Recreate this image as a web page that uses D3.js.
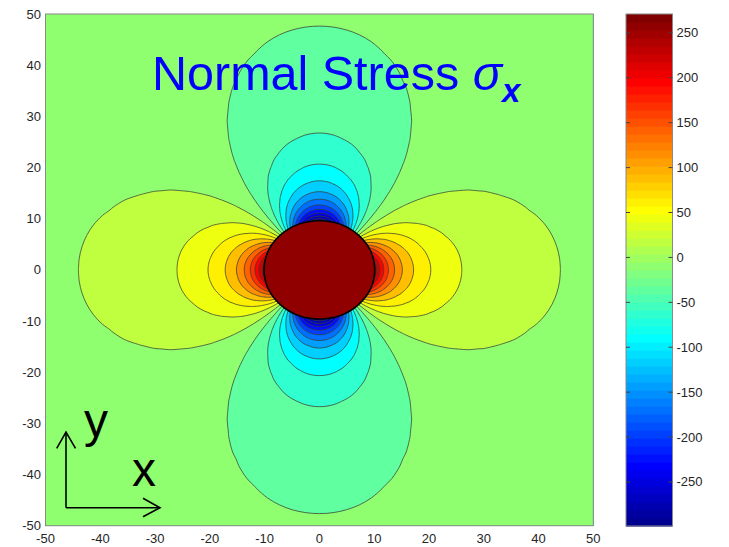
<!DOCTYPE html>
<html><head><meta charset="utf-8">
<script src="https://cdn.jsdelivr.net/npm/d3@7"></script>
<style>
body{margin:0;background:#fff}
svg{display:block}
text{font-family:"Liberation Sans",Arial,Helvetica,sans-serif}
</style>
</head><body><svg id="c" width="729" height="547"></svg>
<script>
// ---------------- data ----------------
// radii (plot units) along the +x axis, and sigma_x read there
const radii = [9, 9.5, 10, 10.5, 11, 11.5, 12, 12.5, 13, 13.5, 14, 15, 16, 17, 18, 19, 20, 22, 24, 26, 28, 30, 33, 36, 40, 44, 48, 53, 58, 64, 71, 76];
const stressOnXAxis = [335, 300, 271, 246, 224, 205, 188, 173, 160, 149, 138, 120, 106, 94, 84, 75, 68, 56, 47, 40, 34.6, 30.1, 24.9, 20.9, 16.9, 14.0, 11.8, 9.6, 8.1, 6.6, 5.4, 4.7];
// relative stress round a ring, first quadrant (degrees from +x axis)
const angles = [0, 3, 6, 9, 12, 15, 18, 21, 24, 27, 30, 33, 36, 39, 42, 45, 48, 51, 54, 57, 60, 63, 66, 69, 72, 75, 78, 81, 84, 87, 90];
const angularFactor = [1, 0.9945, 0.9781, 0.9511, 0.9135, 0.8660, 0.8090, 0.7431, 0.6691, 0.5878, 0.5, 0.4067, 0.3090, 0.2079, 0.1045, 0, -0.1045, -0.2079, -0.3090, -0.4067, -0.5, -0.5878, -0.6691, -0.7431, -0.8090, -0.8660, -0.9135, -0.9511, -0.9781, -0.9945, -1];
// contour levels and colour range
const levels = [-272, -246, -220, -194, -168, -142, -116, -90, -64, -38, -12, 14, 40, 66, 92, 118, 144, 170, 196, 222, 248];
const colorRange = [-299, 271];
const holeRadius = [10.1, 9.6];
const xTicks = [-50, -40, -30, -20, -10, 0, 10, 20, 30, 40, 50];
const yTicks = [-50, -40, -30, -20, -10, 0, 10, 20, 30, 40, 50];
const cbTicks = [-250, -200, -150, -100, -50, 0, 50, 100, 150, 200, 250];

// ---------------- scales ----------------
const svg = d3.select("#c");
const x = d3.scaleLinear().domain([-50, 50]).range([45.5, 593.3]);
const y = d3.scaleLinear().domain([-50, 50]).range([525.7, 14]);
const cb = d3.scaleLinear().domain(colorRange).range([526, 14]);

const jet = d3.scaleLinear()
  .domain([0, 1/8, 3/8, 5/8, 7/8, 1])
  .range(["#000080", "#0000ff", "#00ffff", "#ffff00", "#ff0000", "#800000"])
  .interpolate(d3.interpolateRgb).clamp(true);
function colorOf(v) {
  const f = (v - colorRange[0]) / (colorRange[1] - colorRange[0]);
  const idx = Math.max(0, Math.min(63, Math.floor(f * 64)));
  return jet((idx + 1) / 64);
}

// ---------------- polar grid ----------------
const step = angles[1] - angles[0];
const t0 = 45;
const nT = 360 / step + 1;
const nR = radii.length;
const values = new Array(nT * nR);
for (let ri = 0; ri < nR; ri++) {
  for (let tj = 0; tj < nT; tj++) {
    let phi = (t0 + step * tj) % 180;
    if (phi > 90) phi = 180 - phi;
    values[ri * nT + tj] = stressOnXAxis[ri] * angularFactor[Math.round(phi / step)];
  }
}
function rAt(k) {
  if (k <= 0) return radii[0] + k * (radii[1] - radii[0]);
  if (k >= nR - 1) return radii[nR - 1] + (k - nR + 1) * (radii[nR - 1] - radii[nR - 2]);
  const i = Math.floor(k), t = k - i;
  return radii[i] + t * (radii[i + 1] - radii[i]);
}
function toPx(p) {
  const th = (t0 + step * (p[0] - 0.5)) * Math.PI / 180;
  const r = rAt(p[1] - 0.5);
  return [x(r * Math.cos(th)), y(r * Math.sin(th))];
}
const contours = d3.contours().size([nT, nR]).thresholds(levels)(values);

const closedLine = d3.line().curve(d3.curveCatmullRomClosed.alpha(0.5));
const openLine = d3.line().curve(d3.curveCatmullRom.alpha(0.5));
function fillPath(mp) {
  let d = "";
  mp.coordinates.forEach(poly => poly.forEach(ring => {
    d += closedLine(ring.slice(0, -1).map(toPx));
  }));
  return d;
}
const isB = p => p[0] === 0 || p[0] === nT || p[1] === 0 || p[1] === nR;
function isoPaths(mp) {
  const out = [];
  mp.coordinates.forEach(poly => poly.forEach(ring => {
    const pts = ring.slice(0, -1);
    const n = pts.length;
    let s = -1;
    for (let k = 0; k < n; k++) {
      const a = pts[(k - 1 + n) % n], b = pts[k];
      if (isB(a) && isB(b)) { s = k; break; }
    }
    if (s < 0) { out.push(closedLine(pts.map(toPx))); return; }
    let run = [];
    for (let c = 0; c < n; c++) {
      const a = pts[(s + c) % n], b = pts[(s + c + 1) % n];
      if (isB(a) && isB(b)) {
        if (run.length > 1) out.push(openLine(run.map(toPx)));
        run = [];
      } else {
        if (!run.length) run.push(a);
        run.push(b);
      }
    }
    if (run.length > 1) out.push(openLine(run.map(toPx)));
  }));
  return out;
}

// ---------------- drawing ----------------
svg.append("defs").append("clipPath").attr("id", "plotclip")
  .append("rect").attr("x", x(-50)).attr("y", y(50))
  .attr("width", x(50) - x(-50)).attr("height", y(-50) - y(50));

const plot = svg.append("g").attr("clip-path", "url(#plotclip)");
plot.append("rect").attr("x", x(-50)).attr("y", y(50))
  .attr("width", x(50) - x(-50)).attr("height", y(-50) - y(50))
  .attr("fill", colorOf(colorRange[0]));

plot.selectAll("path.band").data(contours).join("path")
  .attr("class", "band")
  .attr("d", fillPath)
  .attr("fill", d => colorOf(d.value));

contours.forEach(c => {
  isoPaths(c).forEach(d => {
    plot.append("path").attr("d", d).attr("fill", "none")
      .attr("stroke", "#3a3f35").attr("stroke-width", 0.9).attr("stroke-opacity", 0.85);
  });
});

// hole
plot.append("ellipse").attr("cx", x(0)).attr("cy", y(0))
  .attr("rx", x(holeRadius[0]) - x(0)).attr("ry", y(0) - y(holeRadius[1]))
  .attr("fill", jet(63 / 64)).attr("stroke", "#000").attr("stroke-width", 1.6);

// frame
svg.append("rect").attr("x", x(-50)).attr("y", y(50))
  .attr("width", x(50) - x(-50)).attr("height", y(-50) - y(50))
  .attr("fill", "none").attr("stroke", "#888").attr("stroke-width", 1);

// axis labels
svg.append("g").selectAll("text").data(xTicks).join("text")
  .attr("x", d => x(d)).attr("y", 543).attr("text-anchor", "middle")
  .attr("font-size", 13).attr("fill", "#262626").text(d => d);
svg.append("g").selectAll("text").data(yTicks).join("text")
  .attr("x", 41).attr("y", d => y(d) + 4.5).attr("text-anchor", "end")
  .attr("font-size", 13).attr("fill", "#262626").text(d => d);

// colorbar
const cbX0 = 626, cbX1 = 672.5;
const cbSteps = d3.range(64);
svg.append("g").selectAll("rect").data(cbSteps).join("rect")
  .attr("x", cbX0)
  .attr("y", i => cb(colorRange[0] + (i + 1) * (colorRange[1] - colorRange[0]) / 64))
  .attr("width", cbX1 - cbX0)
  .attr("height", (cb(colorRange[0]) - cb(colorRange[1])) / 64 + 0.6)
  .attr("fill", i => jet((i + 1) / 64));
svg.append("rect").attr("x", cbX0).attr("y", cb(colorRange[1]))
  .attr("width", cbX1 - cbX0).attr("height", cb(colorRange[0]) - cb(colorRange[1]))
  .attr("fill", "none").attr("stroke", "#888").attr("stroke-width", 1);
const cbt = svg.append("g").selectAll("g").data(cbTicks).join("g");
cbt.append("line").attr("x1", cbX0).attr("x2", cbX0 + 4).attr("y1", d => cb(d)).attr("y2", d => cb(d))
  .attr("stroke", "#444").attr("stroke-width", 1);
cbt.append("line").attr("x1", cbX1 - 4).attr("x2", cbX1).attr("y1", d => cb(d)).attr("y2", d => cb(d))
  .attr("stroke", "#444").attr("stroke-width", 1);
cbt.append("text").attr("x", cbX1 + 4).attr("y", d => cb(d) + 4.5)
  .attr("font-size", 13).attr("fill", "#262626").text(d => d);

// title
const title = svg.append("text").attr("x", 152).attr("y", 90)
  .attr("font-size", 48.5).attr("fill", "#0000ff");
title.append("tspan").text("Normal Stress ");
title.append("tspan").attr("font-style", "italic").text("σ");
title.append("tspan").attr("font-style", "italic").attr("font-weight", "bold")
  .attr("font-size", 33).attr("dy", 12).text("x");

// coordinate arrows
const ax = svg.append("g").attr("stroke", "#000").attr("stroke-width", 1.6).attr("fill", "none");
ax.append("path").attr("d", "M66,507.7 V432");
ax.append("path").attr("d", "M56.7,448.3 L66,432 L75.5,448.3");
ax.append("path").attr("d", "M66,507.7 H160");
ax.append("path").attr("d", "M143,498.3 L160,507.7 L143,516.7");
svg.append("text").attr("x", 84).attr("y", 437).attr("font-size", 48).attr("fill", "#000").text("y");
svg.append("text").attr("x", 132).attr("y", 486).attr("font-size", 48).attr("fill", "#000").text("x");
</script>
</body></html>
